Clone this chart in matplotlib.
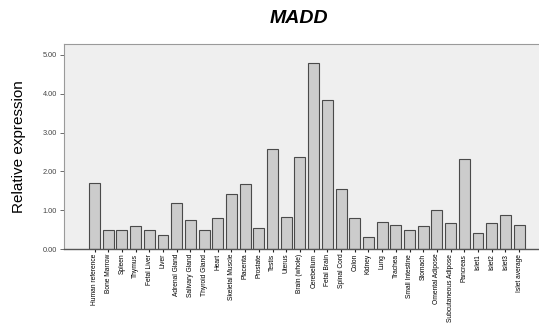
import matplotlib
matplotlib.use("Agg")
import matplotlib.pyplot as plt
import numpy as np

tissues = [
    "Human reference", "Bone Marrow", "Spleen", "Thymus", "Fetal Liver", "Liver",
    "Adrenal Gland", "Salivary Gland", "Thyroid Gland", "Heart", "Skeletal Muscle",
    "Placenta", "Prostate", "Testis", "Uterus", "Brain (whole)", "Cerebellum",
    "Fetal Brain", "Spinal Cord", "Colon", "Kidney", "Lung", "Trachea",
    "Small Intestine", "Stomach", "Omental Adipose", "Subcutaneous Adipose",
    "Pancreas", "Islet1", "Islet2", "Islet3", "Islet average",
]
expression = [
    1.71, 0.49, 0.48, 0.58, 0.49, 0.35, 1.19, 0.75, 0.49, 0.80, 1.41,
    1.68, 0.53, 2.58, 0.82, 2.36, 4.79, 3.84, 1.54, 0.79, 0.31, 0.70,
    0.62, 0.49, 0.58, 1.01, 0.67, 2.32, 0.40, 0.66, 0.88, 0.62,
]
yticks = [0, 1, 2, 3, 4, 5]

plt.rcParams['font.family'] = ['Liberation Sans', 'DejaVu Sans']

fig = plt.figure(figsize=(5.39, 3.32), dpi=100)
ax = fig.add_axes([0.1187, 0.25, 0.885, 0.6175])
ax.set_facecolor("#efefef")

x = np.arange(len(tissues))
ax.bar(x, expression, width=0.8, color="#cccccc", edgecolor="#4a4a4a", linewidth=0.8)

ax.set_xlim(-2.23, 32.6)
ax.set_ylim(0, 5.28)
ax.set_yticks(yticks)
ax.set_yticklabels([f"{v:.2f}" for v in yticks], fontsize=5.3, color="#444444")
ax.set_xticks(x)
ax.set_xticklabels(tissues, rotation=90, fontsize=4.8, va="top", ha="center")
ax.tick_params(axis="y", length=3, width=0.6, pad=2, color="#555555")
ax.tick_params(axis="x", length=2.5, width=0.8, pad=1, color="#222222")

for side in ("top", "right", "left"):
    ax.spines[side].set_color("#9a9a9a")
    ax.spines[side].set_linewidth(0.8)
ax.spines["bottom"].set_color("#555555")
ax.spines["bottom"].set_linewidth(1.0)

ax.set_ylabel("Relative expression", fontsize=11, labelpad=12)
fig.text(0.555, 0.945, "MADD", fontsize=14, fontweight="bold", fontstyle="italic",
         ha="center", va="center")

fig.savefig("out.png", dpi=100)
